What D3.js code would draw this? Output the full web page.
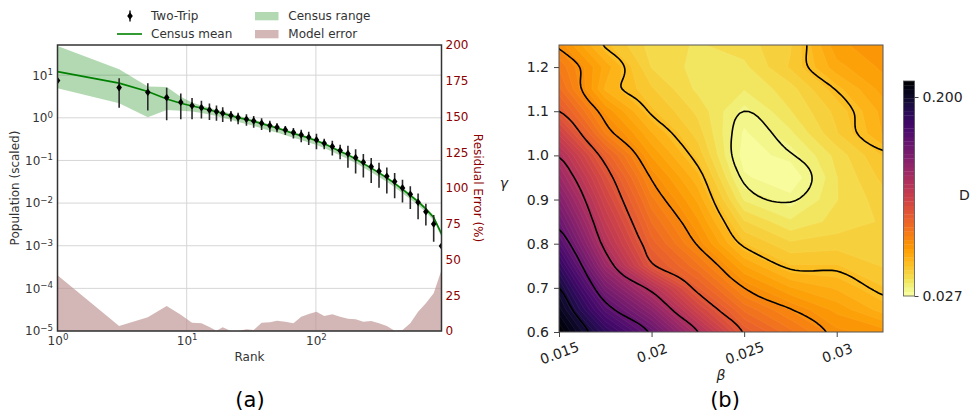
<!DOCTYPE html>
<html>
<head>
<meta charset="utf-8">
<script src="https://cdn.jsdelivr.net/npm/d3@7"></script>
<style>
  body { margin: 0; background: #fff; }
  text { font-family: "DejaVu Sans", sans-serif; }
</style>
</head>
<body>
<svg id="fig" width="971" height="412"></svg>
<script>
// ---------------- Panel (a): scaled population against rank ----------------
const ranks = [1, 3, 5, 7, 9, 11, 13, 15, 17, 19, 22, 25, 29, 33, 38, 44, 50, 58, 67, 77,
  88, 101, 116, 134, 154, 177, 203, 233, 268, 308, 354, 407, 468, 538, 618, 710, 816, 938];
const twoTrip = [7.46, 5.11, 3.99, 2.98, 2.32, 1.93, 1.73, 1.53, 1.40, 1.28, 1.13, 1.01, 0.927, 0.846,
  0.747, 0.656, 0.601, 0.52, 0.45, 0.397, 0.351, 0.303, 0.253, 0.211, 0.17, 0.1445, 0.1164, 0.0908,
  0.0716, 0.0558, 0.0427, 0.0319, 0.0227, 0.0161, 0.0105, 0.0063, 0.00324, 0.000987];
const twoTripErr = [0, 3.4, 2.5, 2.1, 1.4, 1.0, 0.77, 0.64, 0.55, 0.48, 0.31, 0.3, 0.28, 0.26,
  0.23, 0.2, 0.14, 0.124, 0.125, 0.13, 0.12, 0.12, 0.07, 0.08, 0.064, 0.077, 0.067, 0.051,
  0.042, 0.033, 0.026, 0.019, 0.0124, 0.0088, 0.0063, 0.0033, 0.002, 0];
const censusMean = [12.1, 6.5, 4.12, 2.75, 2.2, 1.9, 1.7, 1.52, 1.38, 1.27, 1.12, 1.0, 0.91, 0.83,
  0.73, 0.64, 0.58, 0.5, 0.43, 0.38, 0.335, 0.29, 0.245, 0.2, 0.162, 0.135, 0.108, 0.084,
  0.066, 0.051, 0.039, 0.029, 0.021, 0.0152, 0.0108, 0.0073, 0.0046, 0.0019];
const censusLo = [4.95, 2.2, 1.03, 1.53, 1.47, 1.4, 1.3, 1.2, 1.1, 1.0, 0.9, 0.8, 0.72, 0.65,
  0.57, 0.5, 0.45, 0.39, 0.34, 0.3, 0.265, 0.23, 0.195, 0.16, 0.13, 0.108, 0.087, 0.068,
  0.053, 0.041, 0.0315, 0.0235, 0.017, 0.0124, 0.0089, 0.0061, 0.0039, 0.0016];
const censusHi = [48.6, 13.8, 5.4, 5.3, 3.1, 2.3, 1.95, 1.72, 1.55, 1.42, 1.25, 1.12, 1.0, 0.9,
  0.8, 0.7, 0.62, 0.54, 0.465, 0.41, 0.36, 0.31, 0.262, 0.215, 0.175, 0.145, 0.116, 0.091,
  0.071, 0.055, 0.042, 0.031, 0.0228, 0.0165, 0.0118, 0.008, 0.0051, 0.0021];
const modelError = [39, 3.5, 9.6, 17.5, 11.4, 5.8, 5.5, 2.8, 0.2, 2.6, 0, 0, 1.2, 0.7,
  5.8, 6.1, 7.2, 6.5, 5.4, 10, 11.9, 13.5, 10.5, 11.7, 10, 8.6, 8.2, 6.5,
  7, 5.4, 3.5, 0.2, 0.7, 5.4, 13.5, 19.4, 26.4, 42.7];
const rankTicks = [1, 10, 100];
const popTicks = [1e-5, 1e-4, 1e-3, 1e-2, 1e-1, 1, 10];
const errTicks = [0, 25, 50, 75, 100, 125, 150, 175, 200];

// ---------------- Panel (b): divergence over the (beta, gamma) grid ----------------
const betaVals = [0.015, 0.0175, 0.02, 0.0225, 0.025, 0.0275, 0.03, 0.0325];
const gammaVals = [0.6, 0.65, 0.7, 0.75, 0.8, 0.85, 0.9, 0.95, 1.0, 1.05, 1.1, 1.15, 1.2, 1.25];
// one row per gamma value (bottom to top), one column per beta value
const divergence = [
  [0.2139, 0.1843, 0.1600, 0.1280, 0.0971, 0.0842, 0.0730, 0.0700],
  [0.2045, 0.1678, 0.1426, 0.1100, 0.0860, 0.0755, 0.0670, 0.0590],
  [0.1960, 0.1518, 0.1244, 0.0948, 0.0750, 0.0647, 0.0600, 0.0535],
  [0.1834, 0.1358, 0.1000, 0.0839, 0.0645, 0.0535, 0.0535, 0.0491],
  [0.1698, 0.1245, 0.0925, 0.0742, 0.0535, 0.0465, 0.0477, 0.0462],
  [0.1581, 0.1170, 0.0865, 0.0688, 0.0461, 0.0389, 0.0433, 0.0462],
  [0.1474, 0.1100, 0.0805, 0.0635, 0.0378, 0.0323, 0.0418, 0.0477],
  [0.1367, 0.1030, 0.0743, 0.0582, 0.0315, 0.0270, 0.0418, 0.0506],
  [0.1270, 0.0937, 0.0677, 0.0521, 0.0285, 0.0323, 0.0433, 0.0535],
  [0.1120, 0.0793, 0.0610, 0.0477, 0.0300, 0.0374, 0.0491, 0.0610],
  [0.0980, 0.0710, 0.0540, 0.0447, 0.0330, 0.0418, 0.0506, 0.0620],
  [0.0879, 0.0600, 0.0500, 0.0410, 0.0385, 0.0440, 0.0555, 0.0660],
  [0.0824, 0.0630, 0.0455, 0.0405, 0.0410, 0.0500, 0.0630, 0.0690],
  [0.0740, 0.0543, 0.0440, 0.0415, 0.0440, 0.0490, 0.0670, 0.0710]
];
const lineLevels = [0.033, 0.055, 0.075, 0.098, 0.128, 0.162, 0.196];
const betaTicks = [0.015, 0.02, 0.025, 0.03];
const gammaTicks = [0.6, 0.7, 0.8, 0.9, 1.0, 1.1, 1.2];
const cbarTicks = [0.027, 0.2];
const cbarRange = [0.027, 0.2139];
const nBands = 50;

const svg = d3.select("#fig");
const TXT = "#333";

// ======================= Panel (a) =======================
const A = { l: 57.5, r: 441.5, t: 45, b: 331 };
const xA = d3.scaleLog().domain([1, 938]).range([A.l, A.r]);
const yA = d3.scaleLog().domain([1e-5, 51]).range([A.b, A.t]);
const yR = d3.scaleLinear().domain([0, 200]).range([A.b, A.t]);

svg.append("clipPath").attr("id", "clipA")
  .append("rect").attr("x", A.l).attr("y", A.t).attr("width", A.r - A.l).attr("height", A.b - A.t);

function powLabel(sel) {
  sel.each(function (d) {
    const e = Math.round(Math.log10(d));
    const t = d3.select(this).text(null);
    t.append("tspan").text("10");
    t.append("tspan").attr("dy", "-0.5em").attr("font-size", "0.72em")
      .text(e < 0 ? "\u2212" + (-e) : String(e));
  });
}

// grid lines
const gA = svg.append("g");
gA.selectAll(".gx").data(rankTicks).join("line")
  .attr("x1", d => xA(d)).attr("x2", d => xA(d)).attr("y1", A.t).attr("y2", A.b)
  .attr("stroke", "#d6d6d6").attr("stroke-width", 1);
gA.selectAll(".gy").data(popTicks).join("line")
  .attr("y1", d => yA(d)).attr("y2", d => yA(d)).attr("x1", A.l).attr("x2", A.r)
  .attr("stroke", "#d6d6d6").attr("stroke-width", 1);

const plotA = svg.append("g").attr("clip-path", "url(#clipA)");

// census range band and mean line
plotA.append("path").datum(ranks)
  .attr("d", d3.area().x(d => xA(d)).y0((d, i) => yA(censusLo[i])).y1((d, i) => yA(censusHi[i])))
  .attr("fill", "green").attr("fill-opacity", 0.3);
plotA.append("path").datum(ranks)
  .attr("d", d3.line().x(d => xA(d)).y((d, i) => yA(censusMean[i])))
  .attr("fill", "none").attr("stroke", "green").attr("stroke-width", 1.6);

// two-trip estimates with error bars
plotA.selectAll(".eb").data(ranks).join("line")
  .attr("x1", d => xA(d)).attr("x2", d => xA(d))
  .attr("y1", (d, i) => yA(twoTrip[i] + twoTripErr[i]))
  .attr("y2", (d, i) => yA(Math.max(twoTrip[i] - twoTripErr[i], 1e-5)))
  .attr("stroke", "#2a2a2a").attr("stroke-width", 1.6);
const diamond = "M0,-3.8L2.8,0L0,3.8L-2.8,0Z";
plotA.selectAll(".mk").data(ranks).join("path")
  .attr("d", diamond)
  .attr("transform", (d, i) => `translate(${xA(d)},${yA(twoTrip[i])})`)
  .attr("fill", "#000");

// model error on the secondary axis
plotA.append("path").datum(ranks)
  .attr("d", d3.area().x(d => xA(d)).y0(yR(0)).y1((d, i) => yR(modelError[i])))
  .attr("fill", "rosybrown").attr("fill-opacity", 0.65);

// frame
svg.append("rect").attr("x", A.l).attr("y", A.t).attr("width", A.r - A.l).attr("height", A.b - A.t)
  .attr("fill", "none").attr("stroke", "#333").attr("stroke-width", 1.5);

// axes
const axL = svg.append("g").attr("transform", `translate(${A.l},0)`)
  .call(d3.axisLeft(yA).tickValues(popTicks).tickSize(0).tickPadding(4.5));
const axB = svg.append("g").attr("transform", `translate(0,${A.b})`)
  .call(d3.axisBottom(xA).tickValues(rankTicks).tickSize(0).tickPadding(5));
const axR = svg.append("g").attr("transform", `translate(${A.r},0)`)
  .call(d3.axisRight(yR).tickValues(errTicks).tickSize(0).tickPadding(4));
[axL, axB, axR].forEach(g => {
  g.select(".domain").remove();
  g.selectAll("text").attr("font-size", 12).attr("font-family", "DejaVu Sans").attr("fill", TXT);
});
axL.selectAll("text").call(powLabel);
axB.selectAll("text").call(powLabel);
axR.selectAll("text").attr("fill", "#8b0000");

svg.append("text").attr("x", (A.l + A.r) / 2).attr("y", 361).attr("text-anchor", "middle")
  .attr("font-size", 12).attr("fill", TXT).text("Rank");
svg.append("text").attr("transform", "translate(15,188) rotate(-90)").attr("dy", "0.35em")
  .attr("text-anchor", "middle").attr("font-size", 12).attr("fill", TXT).text("Population (scaled)");
svg.append("text").attr("transform", "translate(478,188) rotate(90)").attr("dy", "0.35em")
  .attr("text-anchor", "middle").attr("font-size", 12).attr("fill", "#8b0000").text("Residual Error (%)");

// legend
const lg = svg.append("g").attr("font-size", 12).attr("fill", TXT);
lg.append("line").attr("x1", 130).attr("x2", 130).attr("y1", 10.5).attr("y2", 21.5)
  .attr("stroke", "#2a2a2a").attr("stroke-width", 1.6);
lg.append("path").attr("d", diamond).attr("transform", "translate(130,16)").attr("fill", "#000");
lg.append("text").attr("x", 151).attr("y", 20.3).text("Two-Trip");
lg.append("line").attr("x1", 117).attr("x2", 142).attr("y1", 34).attr("y2", 34)
  .attr("stroke", "green").attr("stroke-width", 1.6);
lg.append("text").attr("x", 151).attr("y", 38.3).text("Census mean");
lg.append("rect").attr("x", 255).attr("y", 12).attr("width", 23.5).attr("height", 8.3)
  .attr("fill", "green").attr("fill-opacity", 0.3);
lg.append("text").attr("x", 288.3).attr("y", 20.3).text("Census range");
lg.append("rect").attr("x", 255).attr("y", 30).attr("width", 23.5).attr("height", 8.3)
  .attr("fill", "rosybrown").attr("fill-opacity", 0.65);
lg.append("text").attr("x", 288.3).attr("y", 38.3).text("Model error");

svg.append("text").attr("x", 250).attr("y", 407).attr("text-anchor", "middle")
  .attr("font-family", "Liberation Serif").attr("font-size", 21).attr("fill", "#000").text("(a)");

// ======================= Panel (b) =======================
const B = { l: 559, r: 883, t: 45, b: 332 };
const xB = d3.scaleLinear().domain([0.015, 0.0325]).range([B.l, B.r]);
const yB = d3.scaleLinear().domain([0.6, 1.25]).range([B.b, B.t]);
const nx = betaVals.length, ny = gammaVals.length;

svg.append("clipPath").attr("id", "clipB")
  .append("rect").attr("x", B.l).attr("y", B.t).attr("width", B.r - B.l).attr("height", B.b - B.t);

const colorOf = v => d3.interpolateInferno(1 - (v - cbarRange[0]) / (cbarRange[1] - cbarRange[0]));
const bandLevels = d3.range(nBands + 1).map(k => cbarRange[0] + k * (cbarRange[1] - cbarRange[0]) / nBands);

// filled contours straight from the coarse grid
const coarse = divergence.flat();
const cxToBeta = d3.scaleLinear().domain([0.5, nx - 0.5]).range([betaVals[0], betaVals[nx - 1]]);
const cyToGamma = d3.scaleLinear().domain([0.5, ny - 0.5]).range([gammaVals[0], gammaVals[ny - 1]]);
const pathCoarse = d3.geoPath(d3.geoTransform({
  point(x, y) { this.stream.point(xB(cxToBeta(x)), yB(cyToGamma(y))); }
}));
const fills = d3.contours().size([nx, ny]).thresholds(bandLevels.slice(0, nBands))(coarse);
const plotB = svg.append("g").attr("clip-path", "url(#clipB)");
plotB.selectAll(".band").data(fills).join("path")
  .attr("d", pathCoarse)
  .attr("fill", (d, i) => colorOf((bandLevels[i] + bandLevels[i + 1]) / 2))
  .attr("fill-rule", "evenodd")
  .attr("stroke", "rgba(255,255,255,0.12)").attr("stroke-width", 0.5);

// smooth contour lines from a cubic resampling of the grid
const K = 10, P = 3;
function cubic(p0, p1, p2, p3, t) {
  return p1 + 0.5 * t * (p2 - p0 + t * (2 * p0 - 5 * p1 + 4 * p2 - p3 + t * (3 * (p1 - p2) + p3 - p0)));
}
function resample1d(arr) {
  const n = arr.length, out = [];
  const at = i => arr[Math.max(0, Math.min(n - 1, i))];
  for (let i = 0; i < n - 1; i++)
    for (let s = 0; s < K; s++) out.push(cubic(at(i - 1), at(i), at(i + 1), at(i + 2), s / K));
  out.push(arr[n - 1]);
  return out;
}
const rowsFine = divergence.map(resample1d);
const NX = rowsFine[0].length;
const colsFine = d3.range(NX).map(i => resample1d(rowsFine.map(r => r[i])));
const NY = colsFine[0].length;
const PX = NX + 2 * P, PY = NY + 2 * P;
const fine = new Array(PX * PY);
for (let j = 0; j < PY; j++)
  for (let i = 0; i < PX; i++) {
    const fi = Math.max(0, Math.min(NX - 1, i - P)), fj = Math.max(0, Math.min(NY - 1, j - P));
    fine[j * PX + i] = colsFine[fi][fj];
  }
const fxToBeta = d3.scaleLinear().domain([0.5 + P, NX - 0.5 + P]).range([betaVals[0], betaVals[nx - 1]]);
const fyToGamma = d3.scaleLinear().domain([0.5 + P, NY - 0.5 + P]).range([gammaVals[0], gammaVals[ny - 1]]);
const pathFine = d3.geoPath(d3.geoTransform({
  point(x, y) { this.stream.point(xB(fxToBeta(x)), yB(fyToGamma(y))); }
}));
const isolines = d3.contours().size([PX, PY]).thresholds(lineLevels)(fine);
plotB.selectAll(".iso").data(isolines).join("path")
  .attr("d", pathFine).attr("fill", "none").attr("stroke", "#000").attr("stroke-width", 1.6);

svg.append("rect").attr("x", B.l).attr("y", B.t).attr("width", B.r - B.l).attr("height", B.b - B.t)
  .attr("fill", "none").attr("stroke", "#555").attr("stroke-width", 1);

const axBL = svg.append("g").attr("transform", `translate(${B.l},0)`)
  .call(d3.axisLeft(yB).tickValues(gammaTicks).tickSize(5).tickPadding(5).tickFormat(d3.format(".1f")));
const axBB = svg.append("g").attr("transform", `translate(0,${B.b})`)
  .call(d3.axisBottom(xB).tickValues(betaTicks).tickSize(5).tickFormat(d => String(d)));
[axBL, axBB].forEach(g => {
  g.select(".domain").remove();
  g.selectAll("line").attr("stroke", "#444");
  g.selectAll("text").attr("font-size", 14).attr("font-family", "DejaVu Sans").attr("fill", "#222");
});
axBB.selectAll("text").attr("y", 0).attr("dy", "0.35em").attr("text-anchor", "middle")
  .attr("transform", "translate(0,21) rotate(-20)");

svg.append("text").attr("x", (B.l + B.r) / 2).attr("y", 380).attr("text-anchor", "middle")
  .attr("font-size", 14).attr("font-style", "italic").attr("fill", "#222").text("\u03b2");
svg.append("text").attr("x", 504).attr("y", 188).attr("text-anchor", "middle")
  .attr("font-size", 14).attr("font-style", "italic").attr("fill", "#222").text("\u03b3");

// colour bar
const cb = d3.scaleLinear().domain(cbarRange).range([296, 81]);
const cbX = 903.5, cbW = 11;
svg.append("g").selectAll("rect").data(d3.range(nBands)).join("rect")
  .attr("x", cbX).attr("width", cbW)
  .attr("y", k => cb(bandLevels[k + 1]))
  .attr("height", k => cb(bandLevels[k]) - cb(bandLevels[k + 1]) + 0.3)
  .attr("fill", k => colorOf((bandLevels[k] + bandLevels[k + 1]) / 2));
svg.append("rect").attr("x", cbX).attr("y", 81).attr("width", cbW).attr("height", 215)
  .attr("fill", "none").attr("stroke", "#555").attr("stroke-width", 0.8);
const axCB = svg.append("g").attr("transform", `translate(${cbX + cbW},0)`)
  .call(d3.axisRight(cb).tickValues(cbarTicks).tickSize(4).tickPadding(4).tickFormat(d3.format(".3f")));
axCB.select(".domain").remove();
axCB.selectAll("line").attr("stroke", "#444");
axCB.selectAll("text").attr("font-size", 14).attr("font-family", "DejaVu Sans").attr("fill", "#222");
svg.append("text").attr("x", 959).attr("y", 200).attr("font-size", 14).attr("fill", "#222").text("D");

svg.append("text").attr("x", 725).attr("y", 407).attr("text-anchor", "middle")
  .attr("font-family", "Liberation Serif").attr("font-size", 21).attr("fill", "#000").text("(b)");
</script>
</body>
</html>
